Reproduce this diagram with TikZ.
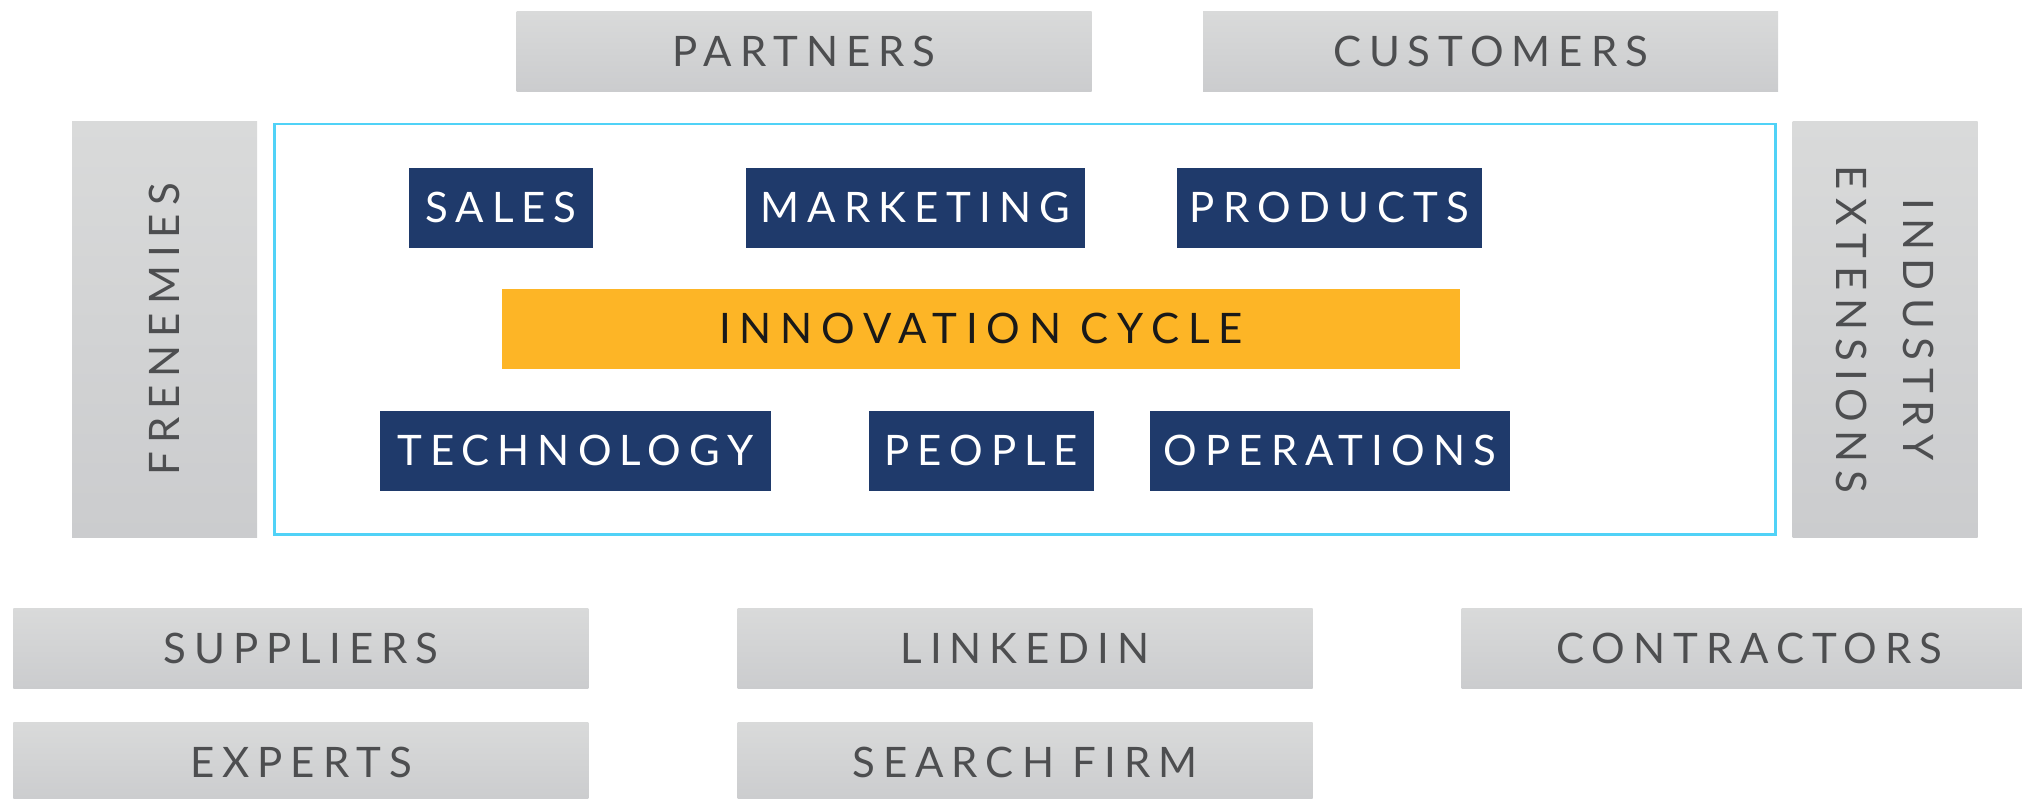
\documentclass[tikz,border=0pt]{standalone}
\usepackage{fontspec}
\newfontfamily\labfont{Lato}[LetterSpace=19]
\newfontfamily\cyclefont{Lato}[LetterSpace=21]
\definecolor{greyTop}{HTML}{D9DADA}
\definecolor{greyBot}{HTML}{CBCCCE}
\definecolor{greyText}{HTML}{4D4E50}
\definecolor{navy}{HTML}{1F3A6B}
\definecolor{amber}{HTML}{FDB526}
\definecolor{cyanline}{HTML}{50D2F7}
\begin{document}
\begin{tikzpicture}[x=1pt,y=-1pt,
  lbl/.style={font=\labfont\fontsize{42}{50}\selectfont, inner sep=0pt, anchor=center},
  greybox/.style={lbl, top color=greyTop, bottom color=greyBot, text=greyText,
    minimum width=575pt, minimum height=80.7pt},
  sidebox/.style={lbl, top color=greyTop, bottom color=greyBot, text=greyText,
    minimum width=415pt, minimum height=185pt, align=center},
  navybox/.style={lbl, fill=navy, text=white, minimum height=79.6pt},
  cyclebox/.style={lbl, font=\cyclefont\fontsize{42}{50}\selectfont,
    fill=amber, text=black!90, minimum height=79.6pt}]
\useasboundingbox (0,0) rectangle (2022,799);
\clip (0,0) rectangle (2022,799);

% outer partners along the top
\node[greybox] (partners) at (804,51.5) {PARTNERS};
\node[greybox] (customers) at (1490.5,51.5) {CUSTOMERS};

% side boxes
\node[sidebox, rotate=90] (frenemies) at (164.5,329.5) {FRENEMIES};
\node[sidebox, rotate=-90] (industry) at (1885,329.5) {INDUSTRY\\[17pt]EXTENSIONS};

% company frame
\node[draw=cyanline, line width=2.8pt, minimum width=1501pt, minimum height=410pt,
  inner sep=0pt] (frame) at (1024.7,329.1) {};

% functions
\node[navybox, minimum width=184pt] (sales) at (501,207.75) {SALES};
\node[navybox, minimum width=338.5pt] (marketing) at (915.25,207.75) {MARKETING};
\node[navybox, minimum width=305.7pt] (products) at (1329.45,207.75) {PRODUCTS};
\node[cyclebox, minimum width=958pt] (cycle) at (981,328.8) {INNOVATION CYCLE};
\node[navybox, minimum width=391pt] (technology) at (575.5,450.85) {TECHNOLOGY};
\node[navybox, minimum width=225.8pt] (people) at (981.4,450.85) {PEOPLE};
\node[navybox, minimum width=359.7pt] (operations) at (1329.85,450.85) {OPERATIONS};

% outer sources along the bottom
\node[greybox] (suppliers) at (300.9,648.35) {SUPPLIERS};
\node[greybox] (linkedin) at (1025,648.35) {LINKEDIN};
\node[greybox] (contractors) at (1749.1,648.35) {CONTRACTORS};
\node[greybox] (experts) at (300.9,762.35) {EXPERTS};
\node[greybox] (searchfirm) at (1025,762.35) {SEARCH FIRM};
\end{tikzpicture}
\end{document}
